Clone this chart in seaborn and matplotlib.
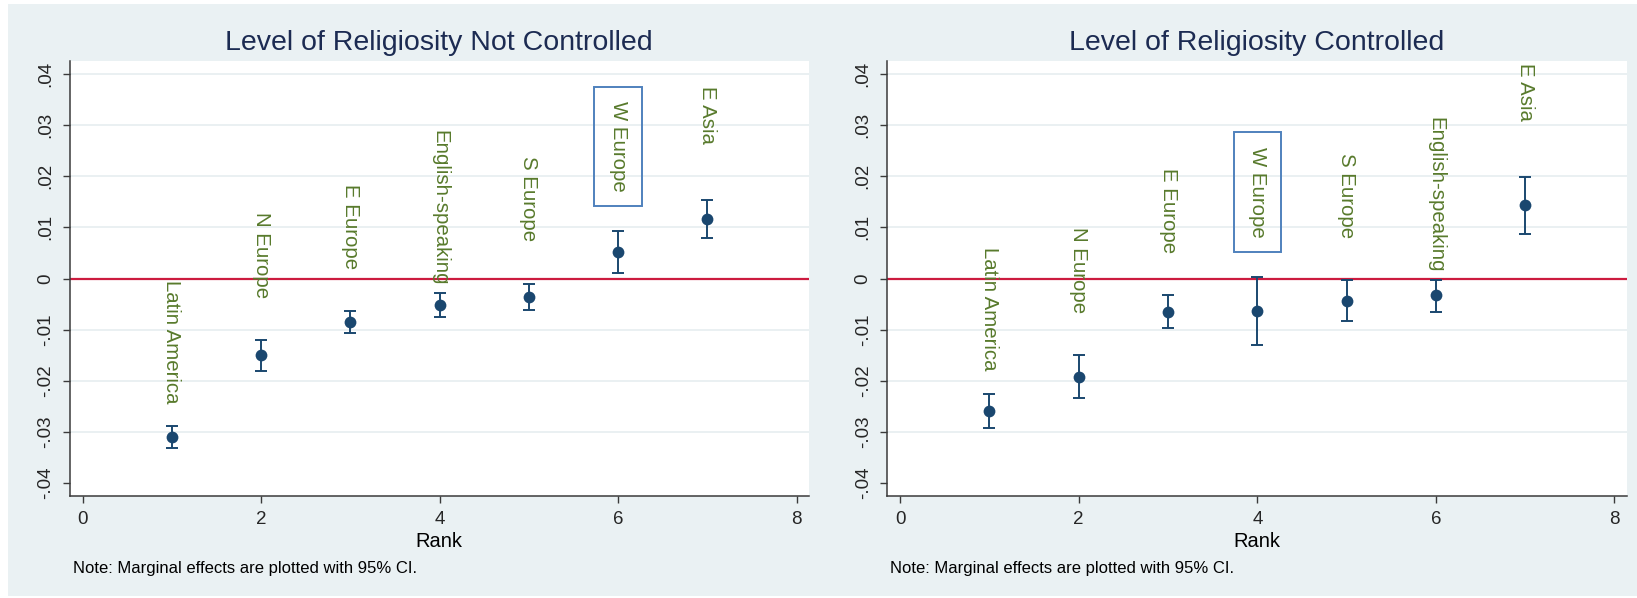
import matplotlib
matplotlib.use("Agg")
import matplotlib.pyplot as plt
from matplotlib import font_manager
from matplotlib.patches import Rectangle
import seaborn as sns
import pandas as pd
import numpy as np

# ---------------- data ----------------
titles = ["Level of Religiosity Not Controlled", "Level of Religiosity Controlled"]
rank = [1, 2, 3, 4, 5, 6, 7]

labels_nc = ["Latin America", "N Europe", "E Europe", "English-speaking", "S Europe", "W Europe", "E Asia"]
est_nc = [-0.0310, -0.0150, -0.0085, -0.0051, -0.0036, 0.0051, 0.0117]
lo_nc = [-0.0332, -0.0180, -0.0106, -0.0076, -0.0062, 0.0011, 0.0079]
hi_nc = [-0.0289, -0.0120, -0.0064, -0.0028, -0.0010, 0.0092, 0.0153]

labels_c = ["Latin America", "N Europe", "E Europe", "W Europe", "S Europe", "English-speaking", "E Asia"]
est_c = [-0.0259, -0.0192, -0.0065, -0.0064, -0.0043, -0.0033, 0.0143]
lo_c = [-0.0292, -0.0234, -0.0097, -0.0130, -0.0084, -0.0065, 0.0087]
hi_c = [-0.0225, -0.0149, -0.0033, 0.0003, -0.0003, -0.0003, 0.0199]

highlight = "W Europe"
yticks = [-0.04, -0.03, -0.02, -0.01, 0, 0.01, 0.02, 0.03, 0.04]
ytick_labels = ["-.04", "-.03", "-.02", "-.01", "0", ".01", ".02", ".03", ".04"]
xticks = [0, 2, 4, 6, 8]
xlabel = "Rank"
note = "Note: Marginal effects are plotted with 95% CI."

# ---------------- style ----------------
sns.set_theme(style="white")
avail = {f.name for f in font_manager.fontManager.ttflist}
narrow = "Liberation Sans Narrow" if "Liberation Sans Narrow" in avail else "Liberation Sans"
plt.rcParams["font.family"] = [narrow, "DejaVu Sans"]

BG = "#eaf1f3"
NAVY = "#1a476f"
GREEN = "#587a2c"
RED = "#cc1b3f"
BOXC = "#4f81bd"
TITLEC = "#1c2b52"
GRID = "#e8eff1"
AX = "#3a3a3a"

W, H = 1637, 598
fig = plt.figure(figsize=(W / 100, H / 100), dpi=100)
fig.patch.set_facecolor("white")
fig.patches.append(Rectangle((8 / W, 2 / H), 1.0, (592) / H, transform=fig.transFigure,
                             facecolor=BG, edgecolor="none", zorder=-10))

axes_pos = [
    [69.6 / W, 1 - 496 / H, (809 - 69.6) / W, (496 - 61) / H],
    [887 / W, 1 - 496 / H, (1627 - 887) / W, (496 - 61) / H],
]

panels = [
    (labels_nc, est_nc, lo_nc, hi_nc),
    (labels_c, est_c, lo_c, hi_c),
]

for i, (labs, est, lo, hi) in enumerate(panels):
    ax = fig.add_axes(axes_pos[i])
    ax.set_facecolor("white")
    df = pd.DataFrame({"rank": rank, "est": est, "lo": lo, "hi": hi, "label": labs})

    for yt in yticks:
        if yt not in (0, -0.04):
            ax.axhline(yt, color=GRID, lw=1.3, zorder=0)
    ax.axhline(0, color=RED, lw=1.6, zorder=1)

    ax.errorbar(df["rank"], df["est"],
                yerr=[df["est"] - df["lo"], df["hi"] - df["est"]],
                fmt="none", ecolor=NAVY, elinewidth=1.4, capsize=4.5, capthick=1.4, zorder=2)
    sns.scatterplot(data=df, x="rank", y="est", ax=ax, color=NAVY, s=72,
                    edgecolor=NAVY, linewidth=0, zorder=3, legend=False)

    for _, r in df.iterrows():
        kw = {}
        if r["label"] == highlight:
            kw["bbox"] = dict(boxstyle="square,pad=0.7", facecolor="none",
                              edgecolor=BOXC, linewidth=1.4)
        ax.text(r["rank"], r["hi"] + 0.0166, r["label"], rotation=270,
                ha="center", va="center", color=GREEN, fontsize=14.7,
                family=["Liberation Sans", "DejaVu Sans"], zorder=4, **kw)

    ax.set_xlim(-0.147, 8.14)
    ax.set_ylim(-0.0425, 0.0425)
    ax.set_xticks(xticks)
    ax.set_xticklabels([str(x) for x in xticks], fontsize=13.5)
    ax.set_yticks(yticks)
    ax.set_yticklabels(ytick_labels, fontsize=13.5, rotation=90, va="center")
    ax.tick_params(axis="both", direction="out", length=5, width=1, color=AX,
                   left=True, bottom=True)
    ax.tick_params(axis="y", pad=6)
    ax.tick_params(axis="x", pad=6)
    for s in ["top", "right"]:
        ax.spines[s].set_visible(False)
    for s in ["left", "bottom"]:
        ax.spines[s].set_color(AX)
        ax.spines[s].set_linewidth(1.1)
    ax.set_xlabel(xlabel, fontsize=14.5, labelpad=3, color="black")
    ax.set_ylabel("")
    ax.set_title(titles[i], fontsize=20.5, color=TITLEC, pad=8)

    fig.text(axes_pos[i][0] + 3.5 / W, 1 - 573 / H, note, fontsize=12, color="black",
             ha="left", va="baseline")

fig.savefig("out.png", dpi=100, facecolor=fig.get_facecolor())
